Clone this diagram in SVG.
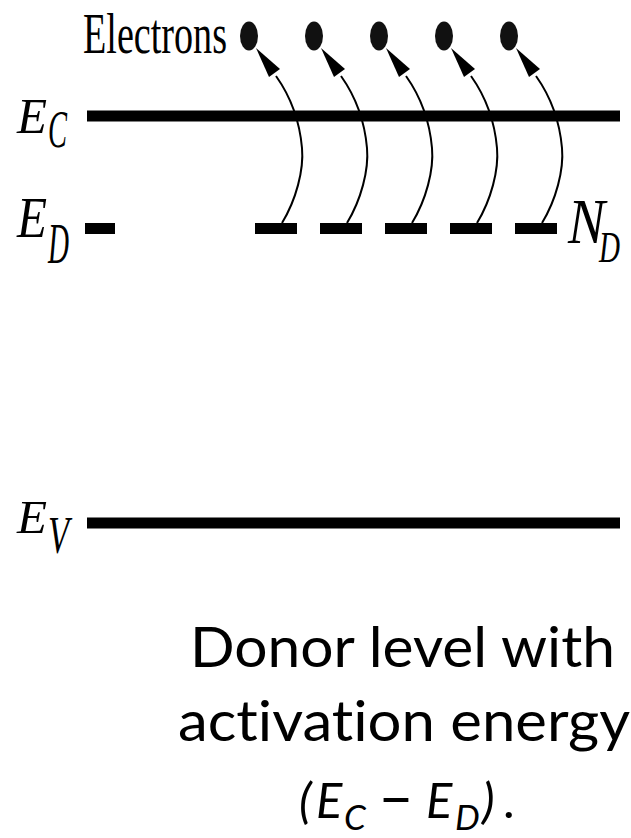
<svg xmlns="http://www.w3.org/2000/svg" width="631" height="838" viewBox="0 0 631 838">
  <style>
    .serif { font-family: "Liberation Serif", "Times New Roman", serif; fill: #000; }
    .it { font-style: italic; }
    .cap { font-family: Lato, "Open Sans", "Liberation Sans", sans-serif; fill: #000; font-variant-ligatures: none; font-feature-settings: "liga" 0, "clig" 0; }
    .band { fill: #000; }
    .jump { fill: none; stroke: #000; stroke-width: 2; }
    .head { fill: #000; }
    .dot { fill: #111; }
  </style>
  <defs>
    <g id="jumpShape">
      <path class="jump" d="M282,223 C296,200 304,170 302,148 C300,125 293,100 276,76"/>
      <polygon class="head" points="256,48 280,69 269,77"/>
    </g>
  </defs>
  <rect width="631" height="838" fill="#fff"/>

  <!-- Labels -->
  <text class="serif" x="83" y="53" font-size="57" textLength="144" lengthAdjust="spacingAndGlyphs">Electrons</text>

  <g id="label-EC">
    <text class="serif it"><tspan x="17" y="133" font-size="50" textLength="30" lengthAdjust="spacingAndGlyphs">E</tspan><tspan x="48" y="147" font-size="52" textLength="19" lengthAdjust="spacingAndGlyphs">C</tspan></text>
  </g>
  <g id="label-ED">
    <text class="serif it"><tspan x="17" y="237" font-size="56" textLength="30" lengthAdjust="spacingAndGlyphs">E</tspan><tspan x="48" y="263" font-size="58" textLength="21" lengthAdjust="spacingAndGlyphs">D</tspan></text>
  </g>
  <g id="label-EV">
    <text class="serif it"><tspan x="17" y="533" font-size="47" textLength="30" lengthAdjust="spacingAndGlyphs">E</tspan><tspan x="48" y="553" font-size="52" textLength="21" lengthAdjust="spacingAndGlyphs">V</tspan></text>
  </g>
  <g id="label-ND">
    <text class="serif it"><tspan x="568" y="243" font-size="64" textLength="37" lengthAdjust="spacingAndGlyphs">N</tspan><tspan x="599" y="262" font-size="44" textLength="21" lengthAdjust="spacingAndGlyphs">D</tspan></text>
  </g>

  <!-- Energy levels -->
  <g id="conduction-band"><rect class="band" x="87" y="110.5" width="533" height="11"/></g>
  <g id="valence-band"><rect class="band" x="87" y="517.5" width="533" height="11"/></g>
  <g id="donor-level-mark"><rect class="band" x="85" y="223" width="30" height="11"/></g>

  <g id="donor-1"><rect class="band" x="255" y="223" width="42" height="11"/></g>
  <g id="donor-2"><rect class="band" x="320" y="223" width="42" height="11"/></g>
  <g id="donor-3"><rect class="band" x="385" y="223" width="42" height="11"/></g>
  <g id="donor-4"><rect class="band" x="450" y="223" width="42" height="11"/></g>
  <g id="donor-5"><rect class="band" x="515" y="223" width="42" height="11"/></g>

  <g id="electron-1"><ellipse class="dot" cx="249" cy="36" rx="9" ry="14.5"/></g>
  <g id="electron-2"><ellipse class="dot" cx="314" cy="36" rx="9" ry="14.5"/></g>
  <g id="electron-3"><ellipse class="dot" cx="379" cy="36" rx="9" ry="14.5"/></g>
  <g id="electron-4"><ellipse class="dot" cx="444" cy="36" rx="9" ry="14.5"/></g>
  <g id="electron-5"><ellipse class="dot" cx="509" cy="36" rx="9" ry="14.5"/></g>

  <g id="connectors">
    <use href="#jumpShape"/>
    <use href="#jumpShape" transform="translate(65,0)"/>
    <use href="#jumpShape" transform="translate(130,0)"/>
    <use href="#jumpShape" transform="translate(195,0)"/>
    <use href="#jumpShape" transform="translate(260,0)"/>
  </g>

  <!-- Caption -->
  <g id="caption">
    <text class="cap" x="190" y="667" font-size="56" textLength="425" lengthAdjust="spacingAndGlyphs">Donor level with</text>
    <text class="cap" x="178" y="741" font-size="56" textLength="452" lengthAdjust="spacingAndGlyphs">activation energy</text>
    <text class="cap" font-size="49"><tspan x="299" y="818" font-style="italic">(</tspan><tspan x="316" y="818" font-style="italic">E</tspan><tspan x="344" y="830" font-size="35" font-style="italic">C</tspan><tspan x="378" y="818" font-size="62">–</tspan><tspan x="426" y="818" font-style="italic">E</tspan><tspan x="455" y="830" font-size="35" font-style="italic">D</tspan><tspan x="482" y="818" font-style="italic">)</tspan><tspan x="503" y="818">.</tspan></text>
  </g>
</svg>
